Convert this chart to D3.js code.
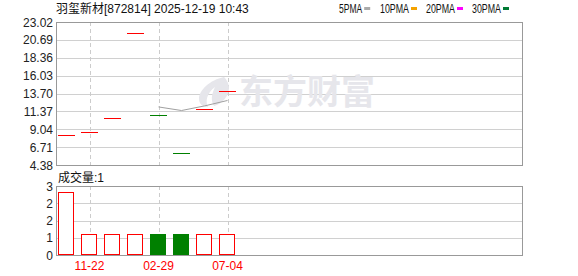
<!DOCTYPE html>
<html>
<head>
<meta charset="utf-8">
<script src="https://cdn.jsdelivr.net/npm/d3@7"></script>
<style>
  body { margin: 0; background: #fff; }
  svg { display: block; }
  text { font-family: "Liberation Sans", "Noto Sans CJK SC", sans-serif; }
</style>
</head>
<body>
<div class="chart"></div>
<script>
// data
var dates = ["10-25", "11-22", "12-20", "01-17", "02-29", "04-10", "05-22", "07-04"];
var prices = [8.25, 8.64, 10.47, 21.55, 10.86, 5.90, 11.64, 13.99];
var prevClose = [8.10, 8.25, 8.64, 10.47, 21.55, 10.86, 5.90, 11.64];
var ma5 = [null, null, null, null, 11.95, 11.48, 12.08, 12.79];
var volumes = [3, 1, 1, 1, 1, 1, 1, 1];
var priceTicks = ["23.02", "20.69", "18.36", "16.03", "13.70", "11.37", "9.04", "6.71", "4.38"];
var volTicks = ["3", "2", "2", "1", "0"];
var labelDates = ["11-22", "02-29", "07-04"];
var legendNames = ["5PMA", "10PMA", "20PMA", "30PMA"];
var legendColors = ["#aaaaaa", "#f5a300", "#ff00ff", "#007a33"];

var W = 578, H = 276;
var left = 56, right = 522;
var pTop = 22, pBottom = 165;
var vTop = 186, vBottom = 255;
var slots = 20;

var svg = d3.select("div.chart").append("svg")
    .attr("width", W)
    .attr("height", H);

var x = d3.scaleBand()
    .domain(d3.range(slots))
    .range([55, 515])
    .paddingInner(0.3)
    .paddingOuter(0.15);

var yP = d3.scaleLinear()
    .domain([+priceTicks[priceTicks.length - 1], +priceTicks[0]])
    .range([pBottom, pTop]);

var volMax = 3.3;
var yV = d3.scaleLinear()
    .domain([0, volMax])
    .range([vBottom, vTop]);

function cx(i) { return x(i) + x.bandwidth() / 2; }
function crisp(v) { return Math.round(v) + 0.5; }

// horizontal grid, price panel
svg.append("g").selectAll("line")
    .data(priceTicks.slice(1, -1))
    .enter().append("line")
    .attr("x1", left).attr("x2", right)
    .attr("y1", d => crisp(yP(+d))).attr("y2", d => crisp(yP(+d)))
    .attr("stroke", "#d0d0d0");

// horizontal grid, volume panel
var volTickVals = d3.range(volTicks.length).map(i => volMax * (volTicks.length - 1 - i) / (volTicks.length - 1));
svg.append("g").selectAll("line")
    .data(volTickVals.slice(1, -1))
    .enter().append("line")
    .attr("x1", left).attr("x2", right)
    .attr("y1", d => crisp(yV(d))).attr("y2", d => crisp(yV(d)))
    .attr("stroke", "#d0d0d0");

// vertical dashed grid at labelled dates
var labelIdx = labelDates.map(d => dates.indexOf(d));
[[pTop, pBottom], [vTop, vBottom]].forEach(function(r) {
  svg.append("g").selectAll("line")
      .data(labelIdx)
      .enter().append("line")
      .attr("x1", i => crisp(cx(i))).attr("x2", i => crisp(cx(i)))
      .attr("y1", r[0]).attr("y2", r[1])
      .attr("stroke", "#cccccc")
      .attr("stroke-dasharray", "4,3");
});

// watermark
var wm = svg.append("g").attr("fill", "#e6e6eb");
wm.append("path")
    .attr("d", "M224,77 C210,80 199,90 199,99 C199,104 203,107 208,107 C205,101 207,93 215,87 C211,95 211,101 214,106 C222,104 229,96 229,88 C229,83 226,79 224,77 Z");
wm.append("text")
    .attr("x", 239).attr("y", 104)
    .attr("font-size", 34)
    .attr("font-weight", "bold")
    .style("font-family", "'Noto Sans CJK SC', sans-serif")
    .text("东方财富");

// panel borders
[[pTop, pBottom], [vTop, vBottom]].forEach(function(r) {
  svg.append("rect")
      .attr("x", left + 0.5).attr("y", r[0] + 0.5)
      .attr("width", right - left).attr("height", r[1] - r[0])
      .attr("fill", "none")
      .attr("stroke", "#999999");
});

// price labels
svg.append("g").selectAll("text")
    .data(priceTicks)
    .enter().append("text")
    .attr("x", 53)
    .attr("y", d => yP(+d) + 4.5)
    .attr("text-anchor", "end")
    .attr("font-size", 12)
    .attr("fill", "#222")
    .text(d => d);

// volume labels
svg.append("g").selectAll("text")
    .data(volTicks)
    .enter().append("text")
    .attr("x", 53)
    .attr("y", (d, i) => yV(volTickVals[i]) + 4.5)
    .attr("text-anchor", "end")
    .attr("font-size", 12)
    .attr("fill", "#222")
    .text(d => d);

// candles (open = close = high = low, so flat ticks)
function upColor(i) { return prices[i] >= prevClose[i] ? "#ff0000" : "#008000"; }

svg.append("g").selectAll("line")
    .data(prices)
    .enter().append("line")
    .attr("x1", (d, i) => Math.round(x(i)))
    .attr("x2", (d, i) => Math.round(x(i) + x.bandwidth()))
    .attr("y1", d => crisp(yP(d))).attr("y2", d => crisp(yP(d)))
    .attr("stroke", (d, i) => upColor(i));

// MA5
var line = d3.line()
    .defined(d => d != null)
    .x((d, i) => cx(i))
    .y(d => yP(d));
svg.append("path")
    .datum(ma5)
    .attr("d", line)
    .attr("fill", "none")
    .attr("stroke", "#a0a0a0")
    .attr("stroke-width", 1);

// volume bars
svg.append("g").selectAll("rect")
    .data(volumes)
    .enter().append("rect")
    .attr("x", (d, i) => Math.round(x(i)) + 0.5)
    .attr("y", d => Math.round(yV(d)) + 0.5)
    .attr("width", Math.round(x.bandwidth()) - 1)
    .attr("height", d => Math.round(yV(0)) - Math.round(yV(d)) - 1)
    .attr("fill", (d, i) => prices[i] >= prevClose[i] ? "#ffffff" : "#008000")
    .attr("stroke", (d, i) => upColor(i));

// x labels
svg.append("g").selectAll("text")
    .data(labelIdx)
    .enter().append("text")
    .attr("x", i => cx(i))
    .attr("y", 270)
    .attr("text-anchor", "middle")
    .attr("font-size", 12)
    .attr("fill", "#ff0000")
    .text(i => dates[i]);

// title
svg.append("text")
    .attr("x", 56).attr("y", 13)
    .attr("font-size", 12)
    .attr("fill", "#111")
    .text("羽玺新材[872814] 2025-12-19 10:43");

// volume title
svg.append("text")
    .attr("x", 58).attr("y", 182)
    .attr("font-size", 12)
    .attr("fill", "#111")
    .text("成交量:" + volumes[volumes.length - 1]);

// legend
var legendX = [339, 380, 426, 472];
var legend = svg.append("g");
legendNames.forEach(function(n, i) {
  var w = n.length * 5.8;
  legend.append("text")
      .attr("x", legendX[i]).attr("y", 12.5)
      .attr("font-size", 12)
      .attr("fill", "#111")
      .attr("textLength", w)
      .attr("lengthAdjust", "spacingAndGlyphs")
      .text(n);
  legend.append("rect")
      .attr("x", legendX[i] + w + 2).attr("y", 7)
      .attr("width", 6).attr("height", 3)
      .attr("fill", legendColors[i]);
});
</script>
</body>
</html>
